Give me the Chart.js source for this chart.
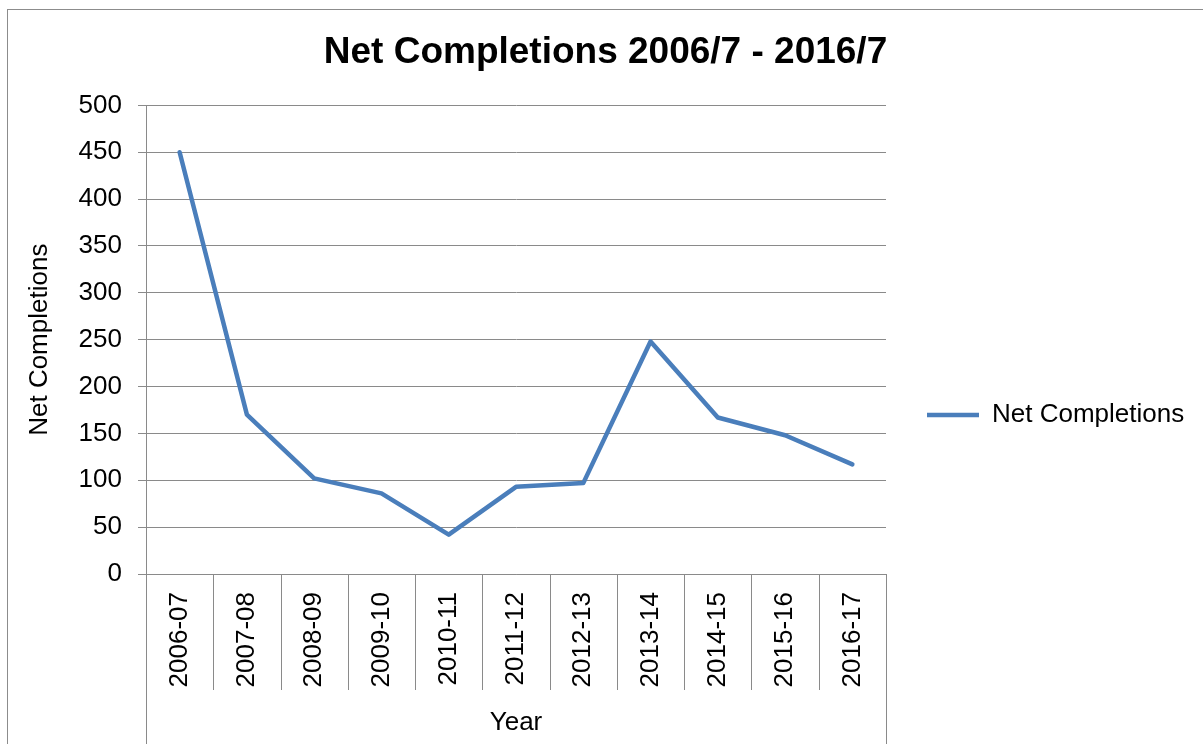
<!DOCTYPE html>
<html>
<head>
<meta charset="utf-8">
<script src="https://cdn.jsdelivr.net/npm/chart.js@4.4.1/dist/chart.umd.min.js"></script>
<style>
  html, body { margin: 0; padding: 0; background: #fff; overflow: hidden; }
  #frame {
    position: absolute; left: 7px; top: 9px; width: 1196px; height: 735px;
    border-left: 1px solid #8c8c8c; border-top: 1px solid #8c8c8c;
  }
  #wrap { position: absolute; left: 0; top: 0; width: 1195px; height: 734px; }
</style>
</head>
<body>
<div id="frame"><div id="wrap"><canvas id="grafico"></canvas></div></div>
<script>
// dados do gráfico
const anos = ["2006-07", "2007-08", "2008-09", "2009-10", "2010-11", "2011-12",
  "2012-13", "2013-14", "2014-15", "2015-16", "2016-17"]
const netCompletions = [450, 170, 102, 86, 42, 93, 97, 248, 167, 148, 117]
const yMin = 0
const yMax = 500
const yStep = 50

const corLinha = "#4a7ebb"
const corGrade = "#8a8a8a"
const fonte = "'Liberation Sans', Arial, sans-serif"

// linhas de separação das categorias abaixo do eixo x
const separadores = {
  id: "separadores",
  afterDraw(chart) {
    const x = chart.scales.x
    const ctx = chart.ctx
    const n = anos.length
    const passo = (x.right - x.left) / n
    const base = chart.chartArea.bottom
    ctx.save()
    ctx.strokeStyle = corGrade
    ctx.lineWidth = 1
    for (let i = 0; i <= n; i++) {
      const px = Math.round(x.left + i * passo) + 0.5
      const fim = (i === 0 || i === n) ? chart.height : base + 116
      ctx.beginPath()
      ctx.moveTo(px, base)
      ctx.lineTo(px, fim)
      ctx.stroke()
    }
    ctx.restore()
  },
}

// largura fixa da legenda e deslocamento vertical
const ajusteLegenda = {
  id: "ajusteLegenda",
  beforeLayout(chart) {
    const lg = chart.legend
    if (lg && !lg._fixo) {
      const fitOriginal = lg.fit.bind(lg)
      lg.fit = function () {
        fitOriginal()
        this.width = 305
      }
      lg._fixo = true
    }
  },
  afterLayout(chart) {
    const lg = chart.legend
    if (lg) {
      lg.top += 38
      lg.bottom += 38
    }
  },
}

const ctx = document.getElementById("grafico").getContext("2d")
new Chart(ctx, {
  type: "line",
  data: {
    labels: anos,
    datasets: [
      {
        label: "Net Completions",
        data: netCompletions,
        borderColor: corLinha,
        backgroundColor: corLinha,
        borderWidth: 4.5,
        borderCapStyle: "round",
        borderJoinStyle: "round",
        pointRadius: 0,
        tension: 0,
      },
    ],
  },
  options: {
    responsive: true,
    maintainAspectRatio: false,
    animation: false,
    layout: { padding: { left: 12, right: 12, top: 0, bottom: 0 } },
    plugins: {
      title: {
        display: true,
        text: "Net Completions 2006/7 - 2016/7",
        color: "#000",
        font: { family: fonte, size: 37, weight: "bold" },
        padding: { top: 21, bottom: 30 },
      },
      legend: {
        position: "right",
        labels: {
          color: "#000",
          font: { family: fonte, size: 26 },
          usePointStyle: true,
          pointStyle: "line",
          pointStyleWidth: 52,
          padding: 41,
        },
      },
      tooltip: { enabled: false },
    },
    scales: {
      x: {
        offset: true,
        grid: { display: true, offset: true, drawOnChartArea: false, drawTicks: false, color: corGrade },
        border: { color: corGrade },
        ticks: {
          color: "#000",
          font: { family: fonte, size: 26 },
          maxRotation: 90,
          minRotation: 90,
          padding: 18,
          autoSkip: false,
        },
        title: {
          display: true,
          text: "Year",
          color: "#000",
          font: { family: fonte, size: 26 },
          padding: { top: 6, bottom: 6 },
        },
        afterFit(scale) {
          scale.height = 170
        },
      },
      y: {
        min: yMin,
        max: yMax,
        grid: { color: corGrade, tickLength: 8 },
        border: { color: corGrade },
        ticks: {
          stepSize: yStep,
          color: "#000",
          font: { family: fonte, size: 26 },
          padding: 16,
        },
        title: {
          display: true,
          text: "Net Completions",
          color: "#000",
          font: { family: fonte, size: 26 },
          padding: { top: 4, bottom: 4 },
        },
        afterFit(scale) {
          scale.width = 126
        },
      },
    },
  },
  plugins: [separadores, ajusteLegenda],
})
</script>
</body>
</html>
